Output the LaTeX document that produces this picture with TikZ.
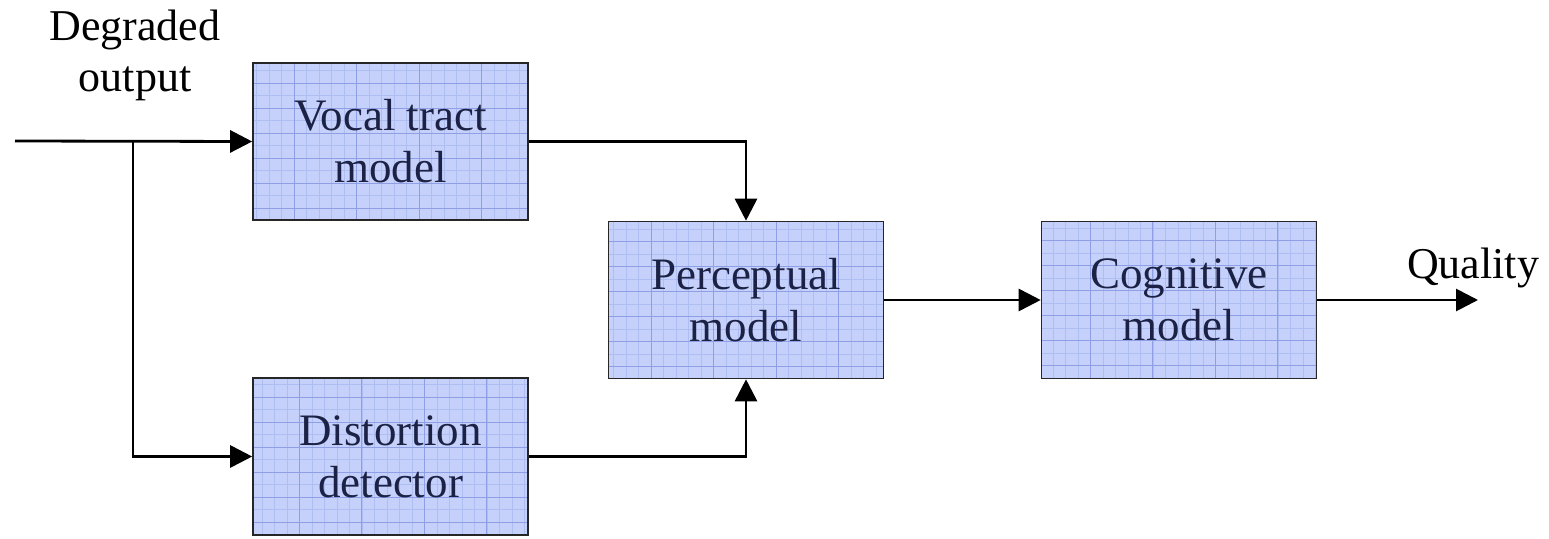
\documentclass[tikz,border=0pt]{standalone}
\usepackage{fontspec}
\setmainfont{Liberation Serif}
\usetikzlibrary{arrows.meta,positioning}
\definecolor{boxfill}{HTML}{C6D1FB}
\definecolor{gridminor}{HTML}{AEBDF2}
\definecolor{gridmajor}{HTML}{8E9FE6}
\definecolor{boxtext}{HTML}{1B2245}
\tikzset{
  block/.style={draw=black!85, line width=1.6pt, fill=boxfill,
    minimum width=275pt, minimum height=157pt, inner sep=0pt,
    align=center, text=boxtext, font=\fontsize{45}{52}\selectfont,
    path picture={
      \draw[gridminor, line width=0.5pt, step=12.5pt]
        (path picture bounding box.south west) grid (path picture bounding box.north east);
      \draw[gridmajor, line width=0.7pt, xstep=62.5pt, ystep=25pt]
        (path picture bounding box.south west) grid (path picture bounding box.north east);
    }},
  flow/.style={line width=2.8pt, -{Triangle[length=22pt,width=22pt]}},
  label/.style={font=\fontsize{44}{51}\selectfont, align=center}
}
\begin{document}
\begin{tikzpicture}[x=1pt,y=-1pt]
  \useasboundingbox (0,0) rectangle (1549,538);
  % processing blocks
  \node[block] (vocal)   at (390.5,141.5) {Vocal tract\\model};
  \node[block] (distort) at (390.5,456.5) {Distortion\\detector};
  \node[block] (percept) at (746,300) {Perceptual\\model};
  \node[block] (cognit)  at (1179,300) {Cognitive\\model};
  % free ends and labels
  \coordinate (in)  at (15,141);
  \coordinate (split) at (133,141);
  \coordinate (out) at (1478,300);
  \node[label] (deg) at (135,55) {Degraded\\output};
  \node[label, anchor=south] (qual) at (1473,292) {Quality};
  % connections
  \draw[flow] (in) -- (vocal.west);
  \draw[flow] (split) |- (distort.west);
  \draw[flow] (vocal.east) -| (percept.north);
  \draw[flow] (distort.east) -| (percept.south);
  \draw[flow] (percept.east) -- (cognit.west);
  \draw[flow] (cognit.east) -- (out);
\end{tikzpicture}
\end{document}
